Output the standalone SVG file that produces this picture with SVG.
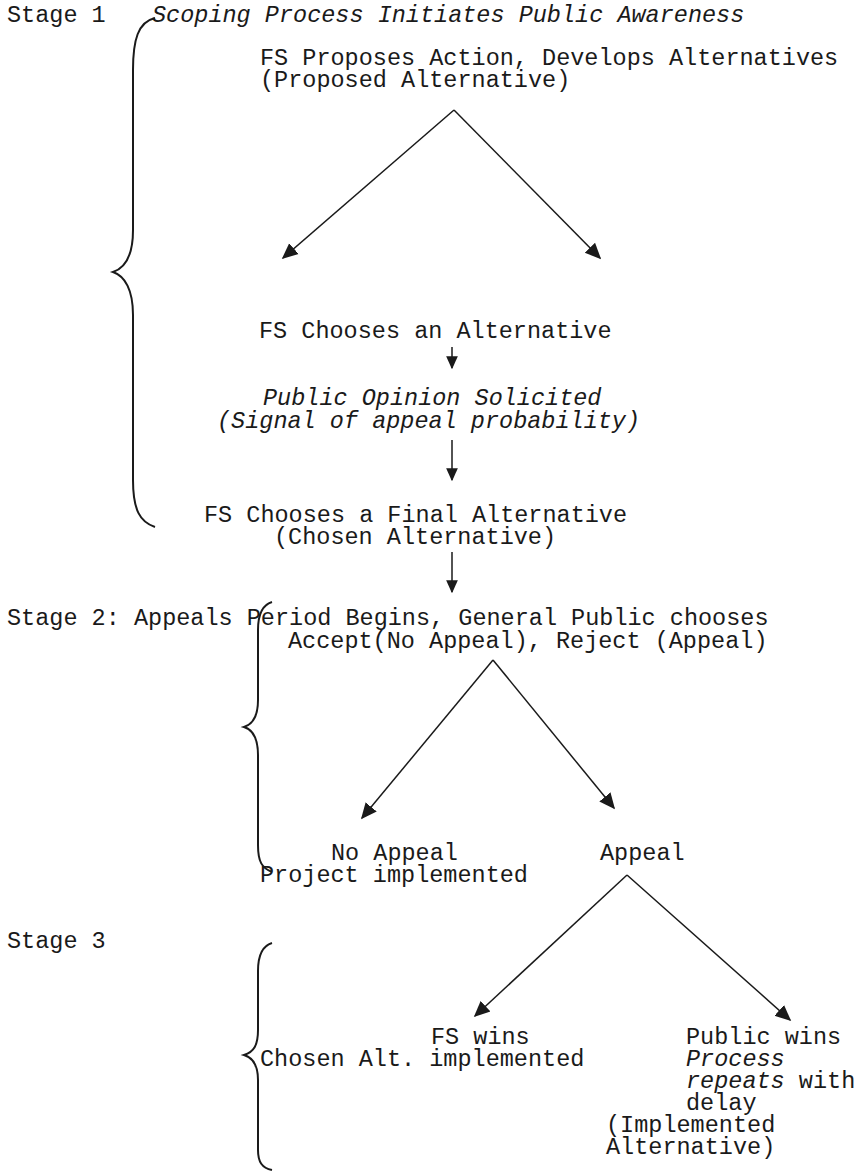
<svg xmlns="http://www.w3.org/2000/svg" width="860" height="1172" viewBox="0 0 860 1172">
<style>
text{font-family:"Liberation Mono","Courier New",monospace;font-size:23.5px;fill:#1a1a1a}
.i{font-style:italic}
.c{stroke:#1a1a1a;stroke-width:1.5;fill:none}
.b{stroke:#1a1a1a;stroke-width:2;fill:none}
</style>
<defs>
<marker id="ahb" viewBox="0 0 10 10" refX="9" refY="5" markerWidth="16" markerHeight="16" markerUnits="userSpaceOnUse" orient="auto">
<path d="M0,0.5 L10,5 L0,9.5 z" fill="#1a1a1a"/>
</marker>
<marker id="ahs" viewBox="0 0 10 10" refX="9" refY="5" markerWidth="13" markerHeight="13" markerUnits="userSpaceOnUse" orient="auto">
<path d="M0,0.5 L10,5 L0,9.5 z" fill="#1a1a1a"/>
</marker>
</defs>
<g id="labels">
<text x="7" y="22">Stage 1</text>
<text x="7" y="625">Stage 2: Appeals Period Begins, General Public chooses</text>
<text x="7" y="948">Stage 3</text>
</g>
<g id="braces">
<path class="b" d="M155,18 C138,22 133,40 133,70 L133,230 C133,255 125,268 113,272 C125,276 133,290 133,315 L133,480 C133,510 140,522 155,527"/>
<path class="b" d="M272,602 C262,605 258,615 258,630 L258,700 C258,715 254,724 244,727 C254,730 258,740 258,755 L258,845 C258,862 262,868 272,872"/>
<path class="b" d="M272,943 C262,946 258,956 258,971 L258,1030 C258,1045 254,1052 244,1055 C254,1058 258,1066 258,1080 L258,1150 C258,1162 262,1168 272,1170"/>
</g>
<g id="n-scoping"><text class="i" x="152" y="22">Scoping Process Initiates Public Awareness</text></g>
<g id="n-proposes"><text x="260" y="65">FS Proposes Action, Develops Alternatives</text><text x="260" y="87">(Proposed Alternative)</text></g>
<g id="n-chooses"><text x="259" y="338">FS Chooses an Alternative</text></g>
<g id="n-opinion"><text class="i" x="263" y="405">Public Opinion Solicited</text><text class="i" x="217" y="428">(Signal of appeal probability)</text></g>
<g id="n-final"><text x="204" y="522">FS Chooses a Final Alternative</text><text x="274" y="544">(Chosen Alternative)</text></g>
<g id="n-accept"><text x="288" y="648">Accept(No Appeal), Reject (Appeal)</text></g>
<g id="n-noappeal"><text x="331" y="860">No Appeal</text><text x="260" y="882">Project implemented</text></g>
<g id="n-appeal"><text x="600" y="860">Appeal</text></g>
<g id="n-fswins"><text x="431" y="1044">FS wins</text><text x="260" y="1066">Chosen Alt. implemented</text></g>
<g id="n-publicwins"><text x="686" y="1044">Public wins</text><text class="i" x="686" y="1066">Process</text><text x="686" y="1088"><tspan class="i">repeats</tspan> with</text><text x="686" y="1110">delay</text><text x="606" y="1132">(Implemented</text><text x="606" y="1154">Alternative)</text></g>
<g id="connectors">
<path class="c" d="M454,110 L283,258" marker-end="url(#ahb)"/>
<path class="c" d="M454,110 L600,258" marker-end="url(#ahb)"/>
<path class="c" d="M452,347 L452,368" marker-end="url(#ahs)"/>
<path class="c" d="M452,440 L452,480" marker-end="url(#ahs)"/>
<path class="c" d="M452,552 L452,592" marker-end="url(#ahs)"/>
<path class="c" d="M493,660 L362,818" marker-end="url(#ahb)"/>
<path class="c" d="M493,660 L614,808" marker-end="url(#ahb)"/>
<path class="c" d="M627,875 L475,1016" marker-end="url(#ahb)"/>
<path class="c" d="M627,875 L790,1020" marker-end="url(#ahb)"/>
</g>
</svg>
